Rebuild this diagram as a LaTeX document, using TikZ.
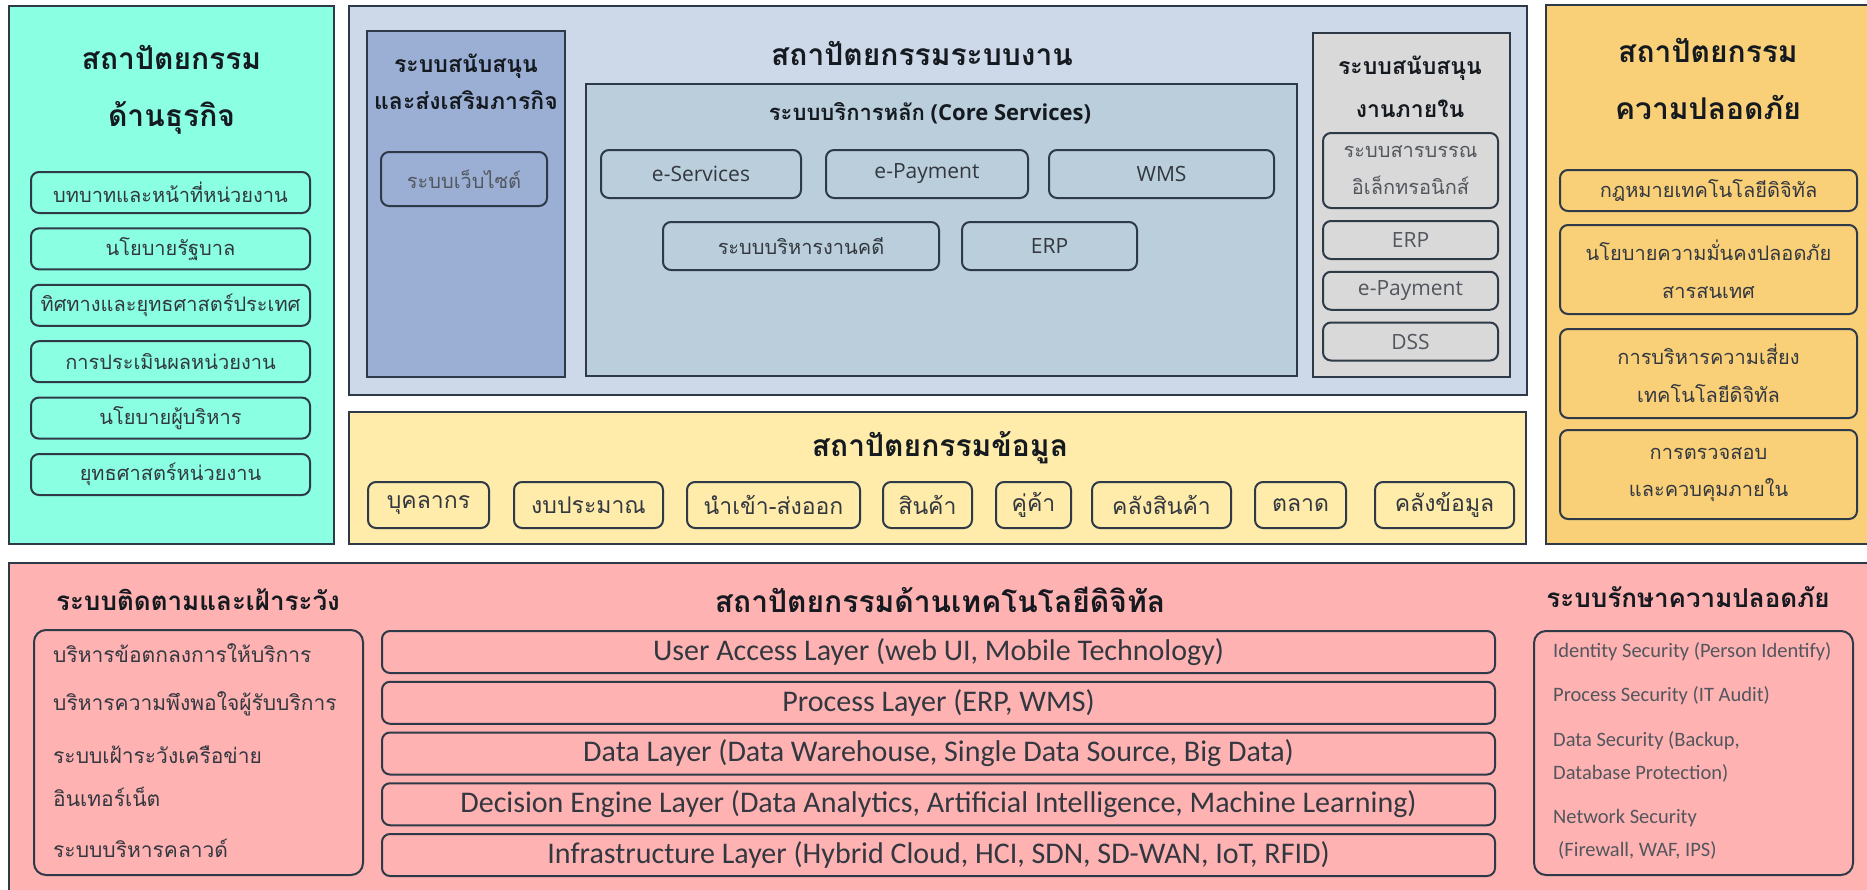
\documentclass[tikz,border=0pt]{standalone}
\usepackage{fontspec}
\setmainfont{Open Sans}
\newfontfamily\thai[Script=Thai]{Loma}
\newfontfamily\narrow{Carlito}
\definecolor{edgeclr}{HTML}{2E3A48}
\definecolor{txtclr}{HTML}{333840}
\definecolor{headclr}{HTML}{151A20}
\definecolor{bizclr}{HTML}{8AFFE1}
\definecolor{sysclr}{HTML}{CDD8E8}
\definecolor{supclr}{HTML}{9BAFD5}
\definecolor{coreclr}{HTML}{BACFDB}
\definecolor{intclr}{HTML}{D9D9D9}
\definecolor{secclr}{HTML}{F9D078}
\definecolor{dataclr}{HTML}{FFECAB}
\definecolor{techclr}{HTML}{FFB2B2}

\begin{document}
\begin{tikzpicture}[x=1pt,y=-1pt,node distance=56.4pt]
\tikzstyle{panel} = [rectangle, draw=edgeclr, line width=2pt, inner sep=0pt]
\tikzstyle{item} = [rectangle, draw=edgeclr, line width=2pt, rounded corners=8pt, inner sep=0pt, text=txtclr, align=center, font=\thai\fontsize{20}{38}\selectfont]
\tikzstyle{latinitem} = [item, font=\fontsize{21}{26}\selectfont]
\tikzstyle{layer} = [item, minimum width=1113pt, minimum height=42pt, font=\narrow\fontsize{30}{34}\selectfont]
\tikzstyle{head} = [text=headclr, align=center, font=\thai\bfseries\fontsize{30}{57}\selectfont]
\tikzstyle{subhead} = [head, font=\thai\bfseries\fontsize{23}{40}\selectfont]
\tikzstyle{listtext} = [anchor=west, inner sep=0pt, text=txtclr, align=left]
\useasboundingbox (0,0) rectangle (1867,889);

% business architecture
\node[panel, fill=bizclr, minimum width=325pt, minimum height=538pt] (biz) at (171.5,275) {};
\node[head] (bizhd) at (171.5,89.5) {สถาปัตยกรรม\\ด้านธุรกิจ};
\tikzstyle{bizitem} = [item, minimum width=279pt, minimum height=41pt]
\node[bizitem] (b1) at (170.5,192.5) {บทบาทและหน้าที่หน่วยงาน};
\node[bizitem][below of=b1] (b2) {นโยบายรัฐบาล};
\node[bizitem][below of=b2] (b3) {ทิศทางและยุทธศาสตร์ประเทศ};
\node[bizitem][below of=b3] (b4) {การประเมินผลหน่วยงาน};
\node[bizitem][below of=b4] (b5) {นโยบายผู้บริหาร};
\node[bizitem][below of=b5] (b6) {ยุทธศาสตร์หน่วยงาน};

% application architecture
\node[panel, fill=sysclr, minimum width=1178pt, minimum height=389pt] (sys) at (938,200.5) {};
\node[head] (syshd) at (922,53) {สถาปัตยกรรมระบบงาน};
\node[panel, fill=supclr, minimum width=198pt, minimum height=346pt] (sup) at (466,204) {};
\node[subhead] (suphd) at (466,81.5) {ระบบสนับสนุน\\[-3pt]และส่งเสริมภารกิจ};
\node[item, minimum width=166pt, minimum height=54pt, text=txtclr!85] (web) at (464,179) {ระบบเว็บไซต์};

\node[panel, fill=coreclr, minimum width=711pt, minimum height=292pt] (core) at (941.5,230) {};
\node[head, font=\bfseries\fontsize{22}{26}\selectfont] (corehd) at (930,113) {{\thai ระบบบริการหลัก} (Core Services)};
\node[latinitem, minimum width=200pt, minimum height=48pt] (eserv) at (701,174) {e-Services};
\node[latinitem, minimum width=202pt, minimum height=48pt] (epay) at (927,174) {e-Payment};
\node[latinitem, minimum width=225pt, minimum height=48pt] (wms) at (1161.5,174) {WMS};
\node[item, minimum width=276pt, minimum height=48pt] (lawcase) at (801,246) {ระบบบริหารงานคดี};
\node[latinitem, minimum width=175pt, minimum height=48pt] (erp) at (1049.5,246) {ERP};

\node[panel, fill=intclr, minimum width=197pt, minimum height=344pt] (int) at (1411.5,205) {};
\node[subhead, font=\thai\bfseries\fontsize{23}{43}\selectfont] (inthd) at (1410,86.5) {ระบบสนับสนุน\\งานภายใน};
\tikzstyle{intitem} = [latinitem, minimum width=175pt, minimum height=38pt, text=txtclr!85]
\node[item, minimum width=175pt, minimum height=75pt, text=txtclr!85, font=\thai\fontsize{20}{37}\selectfont] (edoc) at (1410.5,170.5) {ระบบสารบรรณ\\อิเล็กทรอนิกส์};
\node[intitem] (interp) at (1410.5,240) {ERP};
\node[intitem][below of=interp, node distance=50.75pt] (intpay) {e-Payment};
\node[intitem][below of=intpay, node distance=50.75pt] (dss) {DSS};

% security architecture
\node[panel, fill=secclr, minimum width=334pt, minimum height=539pt] (sec) at (1713,274.5) {};
\node[head] (sechd) at (1708,78.5) {สถาปัตยกรรม\\ความปลอดภัย};
\tikzstyle{secitem} = [item, minimum width=297pt, minimum height=89pt, font=\thai\fontsize{20}{37.5}\selectfont]
\node[secitem, minimum height=41pt] (s1) at (1708.5,190.5) {กฎหมายเทคโนโลยีดิจิทัล};
\node[secitem] (s2) at (1708.5,269.5) {นโยบายความมั่นคงปลอดภัย\\สารสนเทศ};
\node[secitem][below of=s2, node distance=104pt] (s3) {การบริหารความเสี่ยง\\เทคโนโลยีดิจิทัล};
\node[secitem][below of=s3, node distance=101pt] (s4) {การตรวจสอบ\\และควบคุมภายใน};

% data architecture
\node[panel, fill=dataclr, minimum width=1177pt, minimum height=132pt] (data) at (937.5,478) {};
\node[head] (datahd) at (940,448) {สถาปัตยกรรมข้อมูล};
\tikzstyle{dataitem} = [item, minimum height=46pt, font=\thai\fontsize{23}{26}\selectfont]
\node[dataitem, minimum width=121pt] (d1) at (428.5,505) {บุคลากร};
\node[dataitem, minimum width=149pt] (d2) at (588.5,505) {งบประมาณ};
\node[dataitem, minimum width=173pt] (d3) at (773.5,505) {นำเข้า-ส่งออก};
\node[dataitem, minimum width=89pt] (d4) at (927.5,505) {สินค้า};
\node[dataitem, minimum width=75pt] (d5) at (1033.5,505) {คู่ค้า};
\node[dataitem, minimum width=139pt] (d6) at (1161.5,505) {คลังสินค้า};
\node[dataitem, minimum width=91pt] (d7) at (1300.5,505) {ตลาด};
\node[dataitem, minimum width=139pt] (d8) at (1444.5,505) {คลังข้อมูล};

% technology architecture
\node[panel, fill=techclr, minimum width=1871pt, minimum height=337pt] (tech) at (944.5,731.5) {};
\node[subhead, font=\thai\bfseries\fontsize{26}{30}\selectfont] (monhd) at (198,600) {ระบบติดตามและเฝ้าระวัง};
\node[item, rounded corners=12pt, minimum width=329pt, minimum height=245pt] (mon) at (198.5,752.5) {};
\tikzstyle{monline} = [listtext, font=\thai\fontsize{21}{43}\selectfont]
\node[monline] (m1) at (53,653) {บริหารข้อตกลงการให้บริการ};
\node[monline] (m2) at (53,704) {บริหารความพึงพอใจผู้รับบริการ};
\node[monline] (m3) at (53,776.5) {ระบบเฝ้าระวังเครือข่าย\\อินเทอร์เน็ต};
\node[monline] (m4) at (53,848) {ระบบบริหารคลาวด์};

\node[head] (techhd) at (940,600) {สถาปัตยกรรมด้านเทคโนโลยีดิจิทัล};
\node[layer] (l1) at (938.5,652) {User Access Layer (web UI, Mobile Technology)};
\node[layer][below of=l1, node distance=50.75pt] (l2) {Process Layer (ERP, WMS)};
\node[layer][below of=l2, node distance=50.75pt] (l3) {Data Layer (Data Warehouse, Single Data Source, Big Data)};
\node[layer][below of=l3, node distance=50.75pt] (l4) {Decision Engine Layer (Data Analytics, Artificial Intelligence, Machine Learning)};
\node[layer][below of=l4, node distance=50.75pt] (l5) {Infrastructure Layer (Hybrid Cloud, HCI, SDN, SD-WAN, IoT, RFID)};

\node[subhead, font=\thai\bfseries\fontsize{26}{30}\selectfont] (guardhd) at (1688,597) {ระบบรักษาความปลอดภัย};
\node[item, rounded corners=12pt, minimum width=319pt, minimum height=244pt] (guard) at (1693.5,753) {};
\tikzstyle{guardline} = [listtext, text=txtclr!85, font=\narrow\fontsize{20.5}{33}\selectfont]
\node[guardline] (g1) at (1553,652) {Identity Security (Person Identify)};
\node[guardline] (g2) at (1553,696) {Process Security (IT Audit)};
\node[guardline] (g3) at (1553,756.5) {Data Security (Backup,\\Database Protection)};
\node[guardline] (g4) at (1553,834.5) {Network Security\\\hspace{5pt}(Firewall, WAF, IPS)};
\end{tikzpicture}
\end{document}
